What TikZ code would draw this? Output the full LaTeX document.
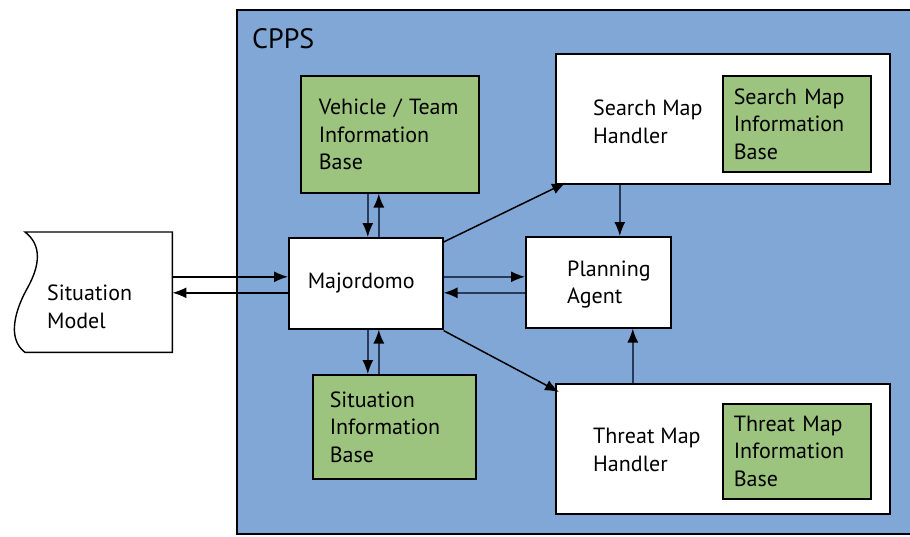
\documentclass[tikz,border=0pt]{standalone}
\usepackage{fontspec}
\setmainfont{PT Sans}
\usetikzlibrary{arrows.meta,positioning}

\definecolor{cppsblue}{RGB}{128,167,214}
\definecolor{basegreen}{RGB}{156,196,126}
\definecolor{linkcol}{RGB}{40,58,88}

\tikzset{
  box/.style={draw=black, line width=1.6pt, fill=white, anchor=north west,
    align=left, font=\fontsize{22}{27.5}\selectfont},
  infobase/.style={box, fill=basegreen},
  txt/.style={inner sep=0pt, align=left, font=\fontsize{22}{27.5}\selectfont},
  arr/.style={line width=1.5pt, draw=black, -{Latex[length=14pt,width=11pt,color=black]}},
  inarr/.style={arr, draw=linkcol},
}

\begin{document}
\begin{tikzpicture}[x=1pt,y=-1pt]
  \useasboundingbox (0,0) rectangle (910,536);

  % CPPS frame
  \draw[fill=cppsblue, line width=1.6pt] (237,10) rectangle (915,534);
  \node[anchor=north west, inner sep=0pt, font=\fontsize{28}{28}\selectfont] (cpps) at (252,28) {CPPS};

  % situation model (outside)
  \node[anchor=north west, inner sep=0pt, minimum width=147pt, minimum height=120pt] (sm) at (25,232) {};
  \draw[line width=1.4pt, fill=white] (sm.north west)
    .. controls (42,245) and (40,265) .. (28,287)
    .. controls (16,308) and (6,338) .. (sm.south west)
    -- (sm.south east) -- (sm.north east) -- cycle;
  \node[txt, anchor=west] (sm-t) at (47,307) {Situation\\Model};

  % boxes
  \node[infobase, text width=142pt, inner xsep=18pt, minimum height=117pt] (veh) at (300,75) {Vehicle / Team\\Information\\Base};
  \node[box, text width=116pt, inner xsep=19pt, minimum height=91pt] (maj) at (288,237) {Majordomo};
  \node[infobase, text width=129pt, inner xsep=17pt, minimum height=104pt] (sib) at (312,374) {Situation\\Information\\Base};
  \node[box, minimum width=145pt, minimum height=91pt] (pa) at (525,236) {};
  \node[txt, right=42pt of pa.west, yshift=-2pt] (pa-t) {Planning\\Agent};

  \node[box, minimum width=334pt, minimum height=130pt] (smh) at (555,53) {};
  \node[txt, right=38pt of smh.west, yshift=-3pt] (smh-t) {Search Map\\Handler};
  \node[infobase, text width=126pt, inner xsep=11pt, minimum height=96pt] (smib) at (722,75) {Search Map\\Information\\Base};

  \node[box, minimum width=334pt, minimum height=130pt] (thr) at (555,383) {};
  \node[txt, right=38pt of thr.west, yshift=-1pt] (thr-t) {Threat Map\\Handler};
  \node[infobase, text width=126pt, inner xsep=11pt, minimum height=95pt] (tmib) at (722,403) {Threat Map\\Information\\Base};

  % connectors
  \coordinate (mi) at ([yshift=6.5pt]maj.west);
  \coordinate (mo) at ([yshift=-9.5pt]maj.west);
  \draw[arr] (sm.east |- mi) -- (mi);
  \draw[arr] (mo) -- (sm.east |- mo);
  \draw[inarr] (maj.east |- mi) -- (pa.west |- mi);
  \draw[inarr] (pa.west |- mo) -- (maj.east |- mo);

  \coordinate (vd) at ([xshift=2pt]maj.north);
  \coordinate (vu) at ([xshift=13pt]maj.north);
  \draw[inarr] (veh.south -| vd) -- (vd);
  \draw[inarr] (vu) -- (veh.south -| vu);
  \coordinate (sd) at ([xshift=2pt]maj.south);
  \coordinate (su) at ([xshift=13pt]maj.south);
  \draw[inarr] (sib.north -| su) -- (su);
  \draw[inarr] (sd) -- (sib.north -| sd);

  \draw[arr] ([yshift=-5pt]maj.north east) -- ([xshift=11pt,yshift=2pt]smh.south west);
  \draw[arr] ([yshift=-1pt]maj.south east) -- ([xshift=4pt,yshift=-9pt]thr.north west);

  \coordinate (sp) at ([xshift=21.5pt]pa.north);
  \coordinate (tp) at ([xshift=34.5pt]pa.south);
  \draw[inarr] (smh.south -| sp) -- (sp);
  \draw[inarr] (thr.north -| tp) -- (tp);
\end{tikzpicture}
\end{document}
